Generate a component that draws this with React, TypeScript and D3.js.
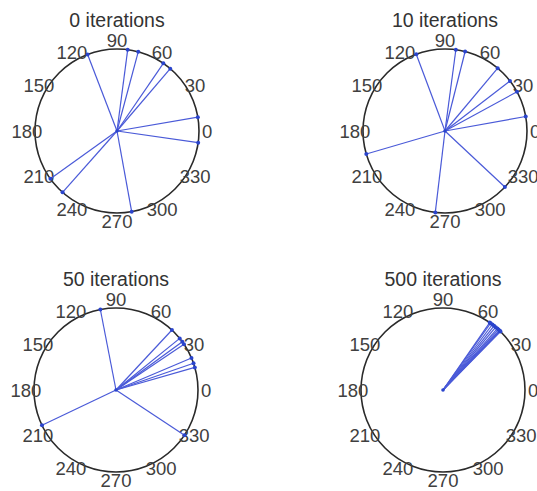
import React from "react";
import * as d3 from "d3";

const titles = ["0 iterations", "10 iterations", "50 iterations", "500 iterations"];
const anglesIter0 = [111, 82.5, 75, 55.6, 49.5, 9.7, 351.8, 280.3, 228.4, 215.7];
const anglesIter10 = [110.5, 82.4, 75.8, 50, 37.6, 28.6, 10.2, 196.3, 263.2, 316.9];
const anglesIter50 = [101, 47, 39, 36, 34, 23, 19, 16, 205.5, 326.6];
const anglesIter500 = [55.3, 54.5, 53, 51.5, 50, 48.5, 47.5, 46.5, 46, 45.5];
const tickAngles = [0, 30, 60, 90, 120, 150, 180, 210, 240, 270, 300, 330];

const panels = [anglesIter0, anglesIter10, anglesIter50, anglesIter500];
const centers: [number, number][] = [
  [117, 131],
  [445, 131],
  [116, 390],
  [443, 390],
];
const R = 82;

function Panel({ title, angles, cx, cy }: { title: string; angles: number[]; cx: number; cy: number }) {
  const r = d3.scaleLinear().domain([0, 1]).range([0, R]);
  const toRad = (deg: number) => ((90 - deg) * Math.PI) / 180;
  const line = d3.lineRadial<[number, number]>().angle((d) => toRad(d[0])).radius((d) => r(d[1]));
  return (
    <g transform={`translate(${cx},${cy})`}>
      <text x={0} y={-104} textAnchor="middle" fontSize={19.5} fill="#333" fontFamily="Liberation Sans, Arial, sans-serif">
        {title}
      </text>
      <circle r={r(1)} fill="none" stroke="#2a2a2a" strokeWidth={1.6} />
      {tickAngles.map((a) => {
        const [x, y] = d3.pointRadial(toRad(a), r(1.1));
        return (
          <text key={a} x={x} y={y} textAnchor="middle" dominantBaseline="central" fontSize={18.5} fill="#404040" fontFamily="Liberation Sans, Arial, sans-serif">
            {a}
          </text>
        );
      })}
      {angles.map((a, i) => (
        <path key={"l" + i} d={line([[a, 0], [a, 1]]) || ""} stroke="#4a5ad8" strokeWidth={1.2} fill="none" />
      ))}
      {angles.map((a, i) => {
        const [x, y] = d3.pointRadial(toRad(a), r(1));
        return <circle key={"p" + i} cx={x} cy={y} r={2} fill="#2a44cc" />;
      })}
      <circle r={1.8} fill="#2a44cc" />
    </g>
  );
}

export default function App() {
  return (
    <svg width={537} height={491} style={{ position: "absolute", left: 0, top: 0, background: "#fff" }}>
      <rect width={537} height={491} fill="#fff" />
      {panels.map((angles, i) => (
        <Panel key={i} title={titles[i]} angles={angles} cx={centers[i][0]} cy={centers[i][1]} />
      ))}
    </svg>
  );
}
